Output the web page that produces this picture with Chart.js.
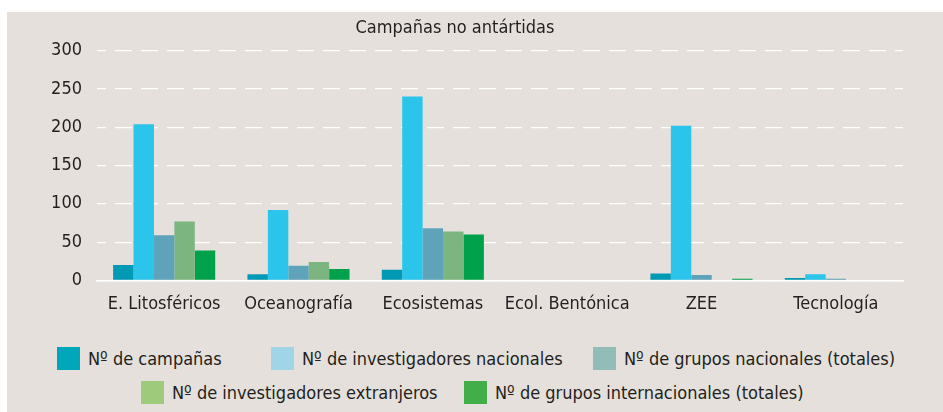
<!DOCTYPE html>
<html>
<head>
    <meta charset="utf-8">
    <title>Campañas no antártidas</title>
    <script src="https://cdn.jsdelivr.net/npm/chart.js"></script>
    <style>
        body {
            margin: 0;
            width: 943px;
            height: 412px;
            background: #fff;
            overflow: hidden;
            font-family: "DejaVu Sans Condensed", sans-serif;
            color: #231f20;
        }
        .panel {
            position: absolute;
            left: 7px;
            top: 12px;
            width: 936px;
            height: 400px;
            background: #e5e0db;
        }
        .chart-container {
            position: absolute;
            left: 0;
            top: 0;
            width: 936px;
            height: 322px;
        }
        .legend-item {
            position: absolute;
            display: flex;
            align-items: center;
            font-size: 18px;
            white-space: nowrap;
            height: 23px;
        }
        .legend-item span.box {
            display: inline-block;
            width: 23px;
            height: 23px;
            margin-right: 8px;
        }
        /* posiciones de la leyenda dentro del panel */
        #lg0 { left: 50px;  top: 335px; }
        #lg1 { left: 264px; top: 335px; }
        #lg2 { left: 586px; top: 335px; }
        #lg3 { left: 134px; top: 369px; }
        #lg4 { left: 457px; top: 369px; }
    </style>
</head>
<body>
    <div class="panel">
        <div class="chart-container">
            <canvas id="campChart"></canvas>
        </div>
        <div id="legend"></div>
    </div>

    <script>
        // datos
        const categorias = ['E. Litosféricos', 'Oceanografía', 'Ecosistemas', 'Ecol. Bentónica', 'ZEE', 'Tecnología'];
        const campanas = [20, 8, 14, 0, 9, 3];
        const investNacionales = [204, 92, 240, 0, 202, 8];
        const gruposNacionales = [59, 19, 68, 0, 7, 2];
        const investExtranjeros = [77, 24, 64, 0, 0, 0];
        const gruposInternacionales = [39, 15, 60, 0, 2, 0];
        const yTicks = [0, 50, 100, 150, 200, 250, 300];

        const series = [
            { label: 'Nº de campañas', data: campanas, color: '#009ab5', legendColor: '#00a6ba' },
            { label: 'Nº de investigadores nacionales', data: investNacionales, color: '#2bc4ea', legendColor: '#a0d5e7' },
            { label: 'Nº de grupos nacionales (totales)', data: gruposNacionales, color: '#5ea3b9', legendColor: '#92bcb7' },
            { label: 'Nº de investigadores extranjeros', data: investExtranjeros, color: '#7db580', legendColor: '#9dcb7b' },
            { label: 'Nº de grupos internacionales (totales)', data: gruposInternacionales, color: '#00a14b', legendColor: '#42ae4a' }
        ];

        // leyenda
        const legend = document.getElementById('legend');
        series.forEach((s, i) => {
            const item = document.createElement('div');
            item.className = 'legend-item';
            item.id = 'lg' + i;
            item.innerHTML = '<span class="box" style="background:' + s.legendColor + '"></span>' + s.label;
            legend.appendChild(item);
        });

        const font = { family: '"DejaVu Sans Condensed", sans-serif', size: 18 };

        const ctx = document.getElementById('campChart').getContext('2d');
        new Chart(ctx, {
            type: 'bar',
            data: {
                labels: categorias,
                datasets: series.map(s => ({
                    label: s.label,
                    data: s.data,
                    backgroundColor: s.color,
                    borderWidth: 0,
                    categoryPercentage: 0.76,
                    barPercentage: 1.0
                }))
            },
            options: {
                responsive: true,
                maintainAspectRatio: false,
                animation: false,
                layout: { padding: { left: 0, right: 40, top: 0, bottom: 6 } },
                plugins: {
                    legend: { display: false },
                    tooltip: { enabled: false },
                    title: {
                        display: true,
                        text: 'Campañas no antártidas',
                        color: '#231f20',
                        font: { ...font, weight: 'normal' },
                        padding: { top: 6, bottom: 11 }
                    }
                },
                scales: {
                    x: {
                        grid: { display: false, drawTicks: false },
                        border: { display: true, color: '#ffffff', width: 1.5 },
                        ticks: { color: '#231f20', font: font, padding: 13, maxRotation: 0, autoSkip: false }
                    },
                    y: {
                        min: 0,
                        max: 300,
                        afterFit: s => { s.width = 90; },
                        afterBuildTicks: s => { s.ticks = yTicks.map(v => ({ value: v })); },
                        grid: {
                            color: '#ffffff',
                            lineWidth: 1.2,
                            drawTicks: false
                        },
                        border: { display: false, dash: [17, 9], dashOffset: 8 },
                        ticks: { color: '#231f20', font: font, padding: 15 }
                    }
                }
            }
        });
    </script>
</body>
</html>
